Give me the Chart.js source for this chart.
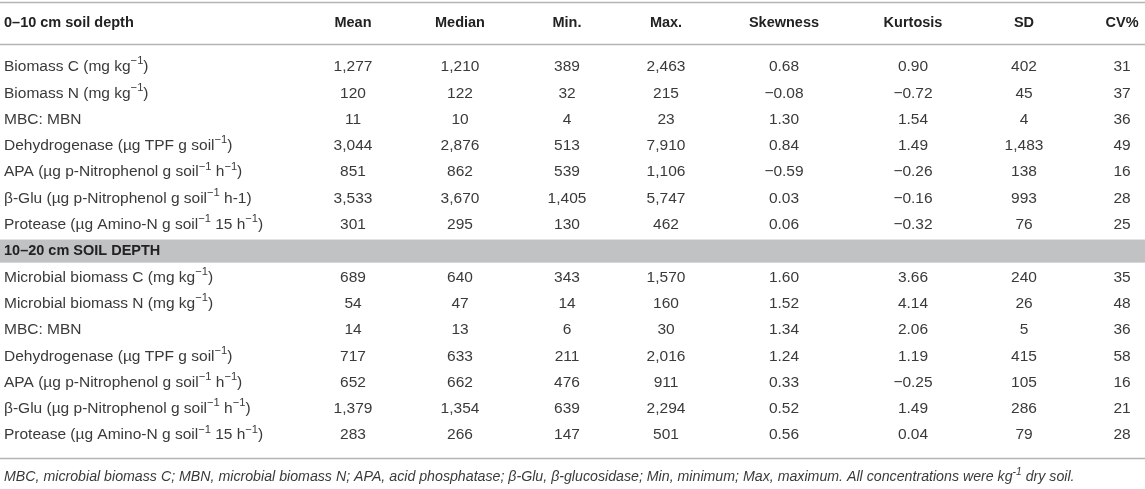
<!DOCTYPE html>
<html>
<head>
<meta charset="utf-8">
<script src="https://cdn.jsdelivr.net/npm/chart.js@4.4.0/dist/chart.umd.min.js"></script>
<style>
  html, body { margin: 0; padding: 0; background: #fff; }
  #wrap { width: 1145px; height: 489px; position: relative; }
</style>
</head>
<body>
<div id="wrap"><canvas id="tabla"></canvas></div>
<script>
// ---- datos de la tabla ----
const columnHeaders = ['Mean', 'Median', 'Min.', 'Max.', 'Skewness', 'Kurtosis', 'SD', 'CV%'];
const decimalColumns = [false, false, false, false, true, true, false, false];

const titleTop = '0–10 cm soil depth';
const titleBottom = '10–20 cm SOIL DEPTH';

const labelsTop = [
  'Biomass C (mg kg^{−1})',
  'Biomass N (mg kg^{−1})',
  'MBC: MBN',
  'Dehydrogenase (µg TPF g soil^{−1})',
  'APA (µg p-Nitrophenol g soil^{−1} h^{−1})',
  'β-Glu (µg p-Nitrophenol g soil^{−1} h-1)',
  'Protease (µg Amino-N g soil^{−1} 15 h^{−1})'
];
const labelsBottom = [
  'Microbial biomass C (mg kg^{−1})',
  'Microbial biomass N (mg kg^{−1})',
  'MBC: MBN',
  'Dehydrogenase (µg TPF g soil^{−1})',
  'APA (µg p-Nitrophenol g soil^{−1} h^{−1})',
  'β-Glu (µg p-Nitrophenol g soil^{−1} h^{−1})',
  'Protease (µg Amino-N g soil^{−1} 15 h^{−1})'
];

// 0-10 cm
const meanTop     = [1277, 120, 11, 3044, 851, 3533, 301];
const medianTop   = [1210, 122, 10, 2876, 862, 3670, 295];
const minTop      = [389, 32, 4, 513, 539, 1405, 130];
const maxTop      = [2463, 215, 23, 7910, 1106, 5747, 462];
const skewTop     = [0.68, -0.08, 1.30, 0.84, -0.59, 0.03, 0.06];
const kurtTop     = [0.90, -0.72, 1.54, 1.49, -0.26, -0.16, -0.32];
const sdTop       = [402, 45, 4, 1483, 138, 993, 76];
const cvTop       = [31, 37, 36, 49, 16, 28, 25];

// 10-20 cm
const meanBottom   = [689, 54, 14, 717, 652, 1379, 283];
const medianBottom = [640, 47, 13, 633, 662, 1354, 266];
const minBottom    = [343, 14, 6, 211, 476, 639, 147];
const maxBottom    = [1570, 160, 30, 2016, 911, 2294, 501];
const skewBottom   = [1.60, 1.52, 1.34, 1.24, 0.33, 0.52, 0.56];
const kurtBottom   = [3.66, 4.14, 2.06, 1.19, -0.25, 1.49, 0.04];
const sdBottom     = [240, 26, 5, 415, 105, 286, 79];
const cvBottom     = [35, 48, 36, 58, 16, 21, 28];

const footnote = 'MBC, microbial biomass C; MBN, microbial biomass N; APA, acid phosphatase; β-Glu, β-glucosidase; Min, minimum; Max, maximum. All concentrations were kg^{-1} dry soil.';

// ---- maquetación (posiciones y estilos, fuera de los datos) ----
const FAMILY = '"Liberation Sans", Arial, sans-serif';
const LAYOUT = {
  labelX: 4,
  colX: [353, 460, 567, 666, 784, 913, 1024, 1122],
  headerRow: -1.67,
  topRule: -2.46,
  headerRule: -0.88,
  bottomRule: 14.87,
  footRow: 15.6,
  bandRow: 7,
  bandHalf: 0.44,
  fontSize: 15.5,
  headSize: 14.5,
  footSize: 14.2,
  textColor: '#3a3a3a',
  headColor: '#222222',
  ruleColor: '#b5b5b5',
  bandColor: '#c1c2c4'
};

const topCols = [meanTop, medianTop, minTop, maxTop, skewTop, kurtTop, sdTop, cvTop];
const bottomCols = [meanBottom, medianBottom, minBottom, maxBottom, skewBottom, kurtBottom, sdBottom, cvBottom];

function fmt(v, dec) {
  if (dec) return (v < 0 ? '−' : '') + Math.abs(v).toFixed(2);
  return String(v).replace(/\B(?=(\d{3})+(?!\d))/g, ',');
}

// filas: 0-6 sección superior, 7 banda, 8-14 sección inferior
function rowIndex(section, i) { return section === 0 ? i : 8 + i; }

const datasets = columnHeaders.map((h, c) => {
  const data = [];
  topCols[c].forEach((v, i) => data.push({ x: LAYOUT.colX[c], y: rowIndex(0, i), txt: fmt(v, decimalColumns[c]) }));
  bottomCols[c].forEach((v, i) => data.push({ x: LAYOUT.colX[c], y: rowIndex(1, i), txt: fmt(v, decimalColumns[c]) }));
  return { label: h, data: data, pointRadius: 0, align: 'center' };
});
const labelData = [];
labelsTop.forEach((t, i) => labelData.push({ x: LAYOUT.labelX, y: rowIndex(0, i), txt: t }));
labelsBottom.forEach((t, i) => labelData.push({ x: LAYOUT.labelX, y: rowIndex(1, i), txt: t }));
datasets.push({ label: 'labels', data: labelData, pointRadius: 0, align: 'left' });

function drawRich(ctx, text, x, y, size, weight, style, align) {
  const segs = text.split(/(\^\{[^}]*\})/).filter(Boolean).map(p =>
    p.startsWith('^{') ? { t: p.slice(2, -1), sup: true } : { t: p, sup: false });
  const fontFor = s => `${style} ${weight} ${s.sup ? size * 0.72 : size}px ${FAMILY}`;
  let total = 0;
  segs.forEach(s => { ctx.font = fontFor(s); s.w = ctx.measureText(s.t).width; total += s.w; });
  let cx = align === 'center' ? x - total / 2 : (align === 'right' ? x - total : x);
  ctx.textAlign = 'left';
  ctx.textBaseline = 'middle';
  segs.forEach(s => {
    ctx.font = fontFor(s);
    ctx.fillText(s.t, cx, s.sup ? y - size * 0.36 : y);
    cx += s.w;
  });
}

const tablePlugin = {
  id: 'tablePlugin',
  beforeDatasetsDraw(chart) {
    const ctx = chart.ctx;
    const y = chart.scales.y;
    const w = chart.width;
    ctx.save();
    // banda gris
    const b0 = y.getPixelForValue(LAYOUT.bandRow - LAYOUT.bandHalf);
    const b1 = y.getPixelForValue(LAYOUT.bandRow + LAYOUT.bandHalf);
    ctx.fillStyle = LAYOUT.bandColor;
    ctx.fillRect(0, b0, w, b1 - b0);
    // líneas
    ctx.strokeStyle = LAYOUT.ruleColor;
    ctx.lineWidth = 1.6;
    [LAYOUT.topRule, LAYOUT.headerRule, LAYOUT.bottomRule].forEach(r => {
      const py = Math.round(y.getPixelForValue(r)) + 0.5;
      ctx.beginPath(); ctx.moveTo(0, py); ctx.lineTo(w, py); ctx.stroke();
    });
    ctx.restore();
  },
  afterDatasetsDraw(chart) {
    const ctx = chart.ctx;
    const x = chart.scales.x;
    const y = chart.scales.y;
    ctx.save();
    // cabecera
    ctx.fillStyle = LAYOUT.headColor;
    const hy = y.getPixelForValue(LAYOUT.headerRow);
    drawRich(ctx, titleTop, x.getPixelForValue(LAYOUT.labelX), hy, LAYOUT.headSize, 'bold', 'normal', 'left');
    columnHeaders.forEach((h, c) => drawRich(ctx, h, x.getPixelForValue(LAYOUT.colX[c]), hy, LAYOUT.headSize, 'bold', 'normal', 'center'));
    // título de banda
    drawRich(ctx, titleBottom, x.getPixelForValue(LAYOUT.labelX), y.getPixelForValue(LAYOUT.bandRow), LAYOUT.headSize, 'bold', 'normal', 'left');
    // celdas
    ctx.fillStyle = LAYOUT.textColor;
    chart.data.datasets.forEach((ds, di) => {
      const meta = chart.getDatasetMeta(di);
      meta.data.forEach((pt, i) => {
        drawRich(ctx, ds.data[i].txt, pt.x, pt.y, LAYOUT.fontSize, 'normal', 'normal', ds.align);
      });
    });
    // nota al pie
    drawRich(ctx, footnote, x.getPixelForValue(LAYOUT.labelX), y.getPixelForValue(LAYOUT.footRow), LAYOUT.footSize, 'normal', 'italic', 'left');
    ctx.restore();
  }
};

new Chart(document.getElementById('tabla').getContext('2d'), {
  type: 'scatter',
  data: { datasets: datasets },
  options: {
    responsive: true,
    maintainAspectRatio: false,
    animation: false,
    events: [],
    layout: { padding: 0 },
    plugins: { legend: { display: false }, tooltip: { enabled: false } },
    scales: {
      x: { type: 'linear', min: 0, max: 1145, display: false },
      y: { type: 'linear', min: -67 / 26.3, max: (489 - 67) / 26.3, reverse: true, display: false }
    }
  },
  plugins: [tablePlugin]
});
</script>
</body>
</html>
